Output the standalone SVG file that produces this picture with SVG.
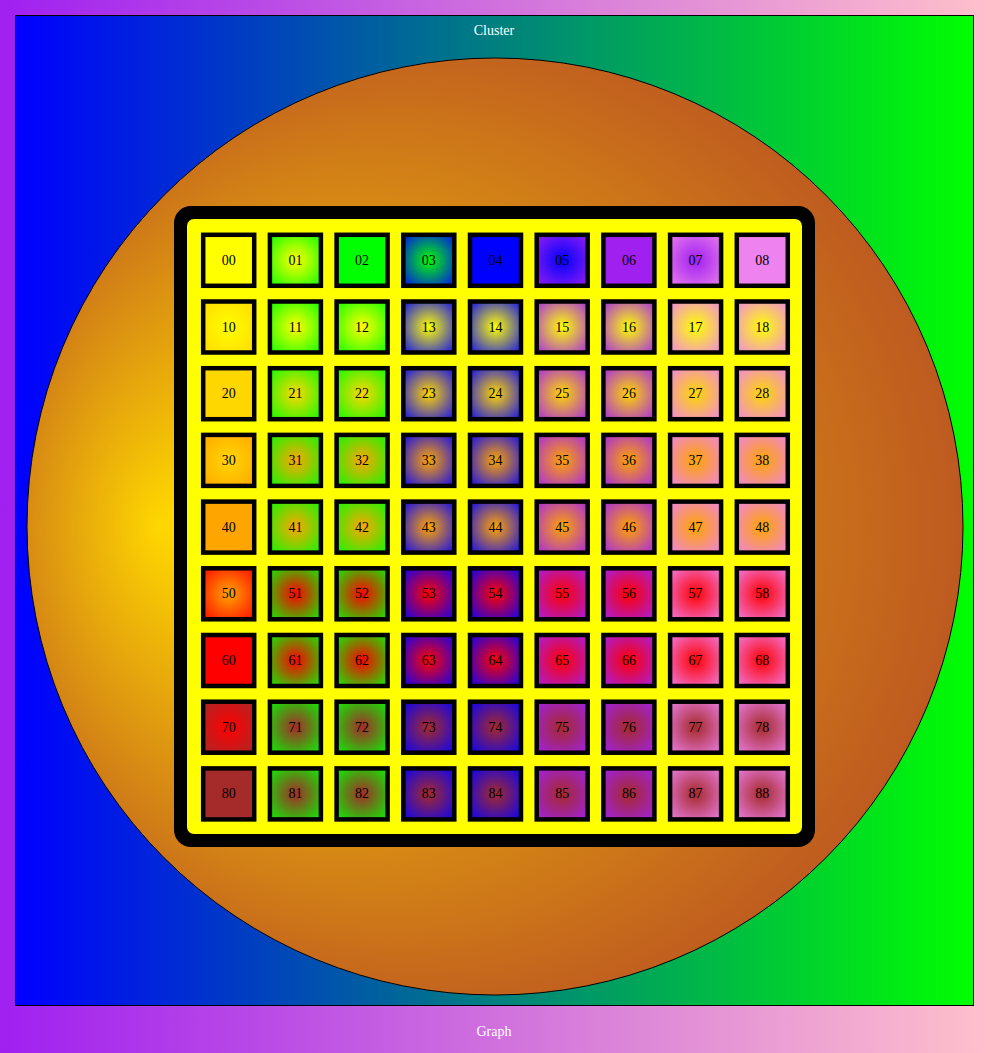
<svg xmlns="http://www.w3.org/2000/svg" width="989" height="1053" viewBox="0 0 989 1053">
<style>
text{font-family:"Liberation Serif","Times New Roman",serif;font-size:14px;text-anchor:middle;fill:#000}
.lbl{fill:#fff}
.c rect{stroke:#000;stroke-width:4.5}
</style>
<defs>
<linearGradient id="bg" x1="0" y1="0" x2="1" y2="0"><stop offset="0" stop-color="#A020F0"/><stop offset="1" stop-color="#FFC0CB"/></linearGradient>
<linearGradient id="cl" x1="0" y1="0" x2="1" y2="0"><stop offset="0" stop-color="#0000FF"/><stop offset="1" stop-color="#00FF00"/></linearGradient>
<radialGradient id="el" gradientUnits="userSpaceOnUse" cx="451" cy="526" r="511" fx="160" fy="526"><stop offset="0" stop-color="#FFD700"/><stop offset="1" stop-color="#BE5A20"/></radialGradient>
<radialGradient id="YG" r="75%"><stop offset="0" stop-color="#FFFF00"/><stop offset="1" stop-color="#00FF00"/></radialGradient>
<radialGradient id="YB" r="75%"><stop offset="0" stop-color="#FFFF00"/><stop offset="1" stop-color="#0000FF"/></radialGradient>
<radialGradient id="YP" r="75%"><stop offset="0" stop-color="#FFFF00"/><stop offset="1" stop-color="#A020F0"/></radialGradient>
<radialGradient id="YV" r="75%"><stop offset="0" stop-color="#FFFF00"/><stop offset="1" stop-color="#EE82EE"/></radialGradient>
<radialGradient id="DG" r="75%"><stop offset="0" stop-color="#FFD700"/><stop offset="1" stop-color="#00FF00"/></radialGradient>
<radialGradient id="DB" r="75%"><stop offset="0" stop-color="#FFD700"/><stop offset="1" stop-color="#0000FF"/></radialGradient>
<radialGradient id="DP" r="75%"><stop offset="0" stop-color="#FFD700"/><stop offset="1" stop-color="#A020F0"/></radialGradient>
<radialGradient id="DV" r="75%"><stop offset="0" stop-color="#FFD700"/><stop offset="1" stop-color="#EE82EE"/></radialGradient>
<radialGradient id="OG" r="75%"><stop offset="0" stop-color="#FFA500"/><stop offset="1" stop-color="#00FF00"/></radialGradient>
<radialGradient id="OB" r="75%"><stop offset="0" stop-color="#FFA500"/><stop offset="1" stop-color="#0000FF"/></radialGradient>
<radialGradient id="OP" r="75%"><stop offset="0" stop-color="#FFA500"/><stop offset="1" stop-color="#A020F0"/></radialGradient>
<radialGradient id="OV" r="75%"><stop offset="0" stop-color="#FFA500"/><stop offset="1" stop-color="#EE82EE"/></radialGradient>
<radialGradient id="RG" r="75%"><stop offset="0" stop-color="#FF0000"/><stop offset="1" stop-color="#00FF00"/></radialGradient>
<radialGradient id="RB" r="75%"><stop offset="0" stop-color="#FF0000"/><stop offset="1" stop-color="#0000FF"/></radialGradient>
<radialGradient id="RP" r="75%"><stop offset="0" stop-color="#FF0000"/><stop offset="1" stop-color="#A020F0"/></radialGradient>
<radialGradient id="RV" r="75%"><stop offset="0" stop-color="#FF0000"/><stop offset="1" stop-color="#EE82EE"/></radialGradient>
<radialGradient id="NG" r="75%"><stop offset="0" stop-color="#A52A2A"/><stop offset="1" stop-color="#00FF00"/></radialGradient>
<radialGradient id="NB" r="75%"><stop offset="0" stop-color="#A52A2A"/><stop offset="1" stop-color="#0000FF"/></radialGradient>
<radialGradient id="NP" r="75%"><stop offset="0" stop-color="#A52A2A"/><stop offset="1" stop-color="#A020F0"/></radialGradient>
<radialGradient id="NV" r="75%"><stop offset="0" stop-color="#A52A2A"/><stop offset="1" stop-color="#EE82EE"/></radialGradient>
<radialGradient id="GB" r="75%"><stop offset="0" stop-color="#00FF00"/><stop offset="1" stop-color="#0000FF"/></radialGradient>
<radialGradient id="BP" r="75%"><stop offset="0" stop-color="#0000FF"/><stop offset="1" stop-color="#A020F0"/></radialGradient>
<radialGradient id="PV" r="75%"><stop offset="0" stop-color="#A020F0"/><stop offset="1" stop-color="#EE82EE"/></radialGradient>
<radialGradient id="YD" r="75%"><stop offset="0" stop-color="#FFFF00"/><stop offset="1" stop-color="#FFD700"/></radialGradient>
<radialGradient id="DO" r="75%"><stop offset="0" stop-color="#FFD700"/><stop offset="1" stop-color="#FFA500"/></radialGradient>
<radialGradient id="OR" r="75%"><stop offset="0" stop-color="#FFA500"/><stop offset="1" stop-color="#FF0000"/></radialGradient>
<radialGradient id="RN" r="75%"><stop offset="0" stop-color="#FF0000"/><stop offset="1" stop-color="#A52A2A"/></radialGradient>
</defs>
<rect x="0" y="0" width="989" height="1053" fill="url(#bg)"/>
<g id="cluster1">
<rect x="15.5" y="15.5" width="958" height="990" fill="url(#cl)" stroke="#000"/>
<text class="lbl" x="494" y="35">Cluster</text>
</g>
<g id="node_table">
<ellipse cx="495" cy="526.5" rx="468" ry="468.5" fill="url(#el)" stroke="#000"/>
<rect x="174" y="206" width="641" height="641" rx="17" fill="#000"/>
<rect x="187" y="219" width="615" height="615" rx="7" fill="#FFFF00"/>
</g>
<g id="cells" class="c">
<g id="c00"><rect x="203.2" y="234.8" width="51" height="51" fill="#FFFF00"/><text x="228.7" y="264.8">00</text></g>
<g id="c01"><rect x="269.9" y="234.8" width="51" height="51" fill="url(#YG)"/><text x="295.4" y="264.8">01</text></g>
<g id="c02"><rect x="336.6" y="234.8" width="51" height="51" fill="#00FF00"/><text x="362.1" y="264.8">02</text></g>
<g id="c03"><rect x="403.3" y="234.8" width="51" height="51" fill="url(#GB)"/><text x="428.8" y="264.8">03</text></g>
<g id="c04"><rect x="470" y="234.8" width="51" height="51" fill="#0000FF"/><text x="495.5" y="264.8">04</text></g>
<g id="c05"><rect x="536.7" y="234.8" width="51" height="51" fill="url(#BP)"/><text x="562.2" y="264.8">05</text></g>
<g id="c06"><rect x="603.4" y="234.8" width="51" height="51" fill="#A020F0"/><text x="628.9" y="264.8">06</text></g>
<g id="c07"><rect x="670.1" y="234.8" width="51" height="51" fill="url(#PV)"/><text x="695.6" y="264.8">07</text></g>
<g id="c08"><rect x="736.8" y="234.8" width="51" height="51" fill="#EE82EE"/><text x="762.3" y="264.8">08</text></g>

<g id="c10"><rect x="203.2" y="301.5" width="51" height="51" fill="url(#YD)"/><text x="228.7" y="331.5">10</text></g>
<g id="c11"><rect x="269.9" y="301.5" width="51" height="51" fill="url(#YG)"/><text x="295.4" y="331.5">11</text></g>
<g id="c12"><rect x="336.6" y="301.5" width="51" height="51" fill="url(#YG)"/><text x="362.1" y="331.5">12</text></g>
<g id="c13"><rect x="403.3" y="301.5" width="51" height="51" fill="url(#YB)"/><text x="428.8" y="331.5">13</text></g>
<g id="c14"><rect x="470" y="301.5" width="51" height="51" fill="url(#YB)"/><text x="495.5" y="331.5">14</text></g>
<g id="c15"><rect x="536.7" y="301.5" width="51" height="51" fill="url(#YP)"/><text x="562.2" y="331.5">15</text></g>
<g id="c16"><rect x="603.4" y="301.5" width="51" height="51" fill="url(#YP)"/><text x="628.9" y="331.5">16</text></g>
<g id="c17"><rect x="670.1" y="301.5" width="51" height="51" fill="url(#YV)"/><text x="695.6" y="331.5">17</text></g>
<g id="c18"><rect x="736.8" y="301.5" width="51" height="51" fill="url(#YV)"/><text x="762.3" y="331.5">18</text></g>

<g id="c20"><rect x="203.2" y="368.2" width="51" height="51" fill="#FFD700"/><text x="228.7" y="398.2">20</text></g>
<g id="c21"><rect x="269.9" y="368.2" width="51" height="51" fill="url(#DG)"/><text x="295.4" y="398.2">21</text></g>
<g id="c22"><rect x="336.6" y="368.2" width="51" height="51" fill="url(#DG)"/><text x="362.1" y="398.2">22</text></g>
<g id="c23"><rect x="403.3" y="368.2" width="51" height="51" fill="url(#DB)"/><text x="428.8" y="398.2">23</text></g>
<g id="c24"><rect x="470" y="368.2" width="51" height="51" fill="url(#DB)"/><text x="495.5" y="398.2">24</text></g>
<g id="c25"><rect x="536.7" y="368.2" width="51" height="51" fill="url(#DP)"/><text x="562.2" y="398.2">25</text></g>
<g id="c26"><rect x="603.4" y="368.2" width="51" height="51" fill="url(#DP)"/><text x="628.9" y="398.2">26</text></g>
<g id="c27"><rect x="670.1" y="368.2" width="51" height="51" fill="url(#DV)"/><text x="695.6" y="398.2">27</text></g>
<g id="c28"><rect x="736.8" y="368.2" width="51" height="51" fill="url(#DV)"/><text x="762.3" y="398.2">28</text></g>

<g id="c30"><rect x="203.2" y="434.9" width="51" height="51" fill="url(#DO)"/><text x="228.7" y="464.9">30</text></g>
<g id="c31"><rect x="269.9" y="434.9" width="51" height="51" fill="url(#OG)"/><text x="295.4" y="464.9">31</text></g>
<g id="c32"><rect x="336.6" y="434.9" width="51" height="51" fill="url(#OG)"/><text x="362.1" y="464.9">32</text></g>
<g id="c33"><rect x="403.3" y="434.9" width="51" height="51" fill="url(#OB)"/><text x="428.8" y="464.9">33</text></g>
<g id="c34"><rect x="470" y="434.9" width="51" height="51" fill="url(#OB)"/><text x="495.5" y="464.9">34</text></g>
<g id="c35"><rect x="536.7" y="434.9" width="51" height="51" fill="url(#OP)"/><text x="562.2" y="464.9">35</text></g>
<g id="c36"><rect x="603.4" y="434.9" width="51" height="51" fill="url(#OP)"/><text x="628.9" y="464.9">36</text></g>
<g id="c37"><rect x="670.1" y="434.9" width="51" height="51" fill="url(#OV)"/><text x="695.6" y="464.9">37</text></g>
<g id="c38"><rect x="736.8" y="434.9" width="51" height="51" fill="url(#OV)"/><text x="762.3" y="464.9">38</text></g>

<g id="c40"><rect x="203.2" y="501.6" width="51" height="51" fill="#FFA500"/><text x="228.7" y="531.6">40</text></g>
<g id="c41"><rect x="269.9" y="501.6" width="51" height="51" fill="url(#OG)"/><text x="295.4" y="531.6">41</text></g>
<g id="c42"><rect x="336.6" y="501.6" width="51" height="51" fill="url(#OG)"/><text x="362.1" y="531.6">42</text></g>
<g id="c43"><rect x="403.3" y="501.6" width="51" height="51" fill="url(#OB)"/><text x="428.8" y="531.6">43</text></g>
<g id="c44"><rect x="470" y="501.6" width="51" height="51" fill="url(#OB)"/><text x="495.5" y="531.6">44</text></g>
<g id="c45"><rect x="536.7" y="501.6" width="51" height="51" fill="url(#OP)"/><text x="562.2" y="531.6">45</text></g>
<g id="c46"><rect x="603.4" y="501.6" width="51" height="51" fill="url(#OP)"/><text x="628.9" y="531.6">46</text></g>
<g id="c47"><rect x="670.1" y="501.6" width="51" height="51" fill="url(#OV)"/><text x="695.6" y="531.6">47</text></g>
<g id="c48"><rect x="736.8" y="501.6" width="51" height="51" fill="url(#OV)"/><text x="762.3" y="531.6">48</text></g>

<g id="c50"><rect x="203.2" y="568.3" width="51" height="51" fill="url(#OR)"/><text x="228.7" y="598.3">50</text></g>
<g id="c51"><rect x="269.9" y="568.3" width="51" height="51" fill="url(#RG)"/><text x="295.4" y="598.3">51</text></g>
<g id="c52"><rect x="336.6" y="568.3" width="51" height="51" fill="url(#RG)"/><text x="362.1" y="598.3">52</text></g>
<g id="c53"><rect x="403.3" y="568.3" width="51" height="51" fill="url(#RB)"/><text x="428.8" y="598.3">53</text></g>
<g id="c54"><rect x="470" y="568.3" width="51" height="51" fill="url(#RB)"/><text x="495.5" y="598.3">54</text></g>
<g id="c55"><rect x="536.7" y="568.3" width="51" height="51" fill="url(#RP)"/><text x="562.2" y="598.3">55</text></g>
<g id="c56"><rect x="603.4" y="568.3" width="51" height="51" fill="url(#RP)"/><text x="628.9" y="598.3">56</text></g>
<g id="c57"><rect x="670.1" y="568.3" width="51" height="51" fill="url(#RV)"/><text x="695.6" y="598.3">57</text></g>
<g id="c58"><rect x="736.8" y="568.3" width="51" height="51" fill="url(#RV)"/><text x="762.3" y="598.3">58</text></g>

<g id="c60"><rect x="203.2" y="635" width="51" height="51" fill="#FF0000"/><text x="228.7" y="665">60</text></g>
<g id="c61"><rect x="269.9" y="635" width="51" height="51" fill="url(#RG)"/><text x="295.4" y="665">61</text></g>
<g id="c62"><rect x="336.6" y="635" width="51" height="51" fill="url(#RG)"/><text x="362.1" y="665">62</text></g>
<g id="c63"><rect x="403.3" y="635" width="51" height="51" fill="url(#RB)"/><text x="428.8" y="665">63</text></g>
<g id="c64"><rect x="470" y="635" width="51" height="51" fill="url(#RB)"/><text x="495.5" y="665">64</text></g>
<g id="c65"><rect x="536.7" y="635" width="51" height="51" fill="url(#RP)"/><text x="562.2" y="665">65</text></g>
<g id="c66"><rect x="603.4" y="635" width="51" height="51" fill="url(#RP)"/><text x="628.9" y="665">66</text></g>
<g id="c67"><rect x="670.1" y="635" width="51" height="51" fill="url(#RV)"/><text x="695.6" y="665">67</text></g>
<g id="c68"><rect x="736.8" y="635" width="51" height="51" fill="url(#RV)"/><text x="762.3" y="665">68</text></g>

<g id="c70"><rect x="203.2" y="701.7" width="51" height="51" fill="url(#RN)"/><text x="228.7" y="731.7">70</text></g>
<g id="c71"><rect x="269.9" y="701.7" width="51" height="51" fill="url(#NG)"/><text x="295.4" y="731.7">71</text></g>
<g id="c72"><rect x="336.6" y="701.7" width="51" height="51" fill="url(#NG)"/><text x="362.1" y="731.7">72</text></g>
<g id="c73"><rect x="403.3" y="701.7" width="51" height="51" fill="url(#NB)"/><text x="428.8" y="731.7">73</text></g>
<g id="c74"><rect x="470" y="701.7" width="51" height="51" fill="url(#NB)"/><text x="495.5" y="731.7">74</text></g>
<g id="c75"><rect x="536.7" y="701.7" width="51" height="51" fill="url(#NP)"/><text x="562.2" y="731.7">75</text></g>
<g id="c76"><rect x="603.4" y="701.7" width="51" height="51" fill="url(#NP)"/><text x="628.9" y="731.7">76</text></g>
<g id="c77"><rect x="670.1" y="701.7" width="51" height="51" fill="url(#NV)"/><text x="695.6" y="731.7">77</text></g>
<g id="c78"><rect x="736.8" y="701.7" width="51" height="51" fill="url(#NV)"/><text x="762.3" y="731.7">78</text></g>

<g id="c80"><rect x="203.2" y="768.4" width="51" height="51" fill="#A52A2A"/><text x="228.7" y="798.4">80</text></g>
<g id="c81"><rect x="269.9" y="768.4" width="51" height="51" fill="url(#NG)"/><text x="295.4" y="798.4">81</text></g>
<g id="c82"><rect x="336.6" y="768.4" width="51" height="51" fill="url(#NG)"/><text x="362.1" y="798.4">82</text></g>
<g id="c83"><rect x="403.3" y="768.4" width="51" height="51" fill="url(#NB)"/><text x="428.8" y="798.4">83</text></g>
<g id="c84"><rect x="470" y="768.4" width="51" height="51" fill="url(#NB)"/><text x="495.5" y="798.4">84</text></g>
<g id="c85"><rect x="536.7" y="768.4" width="51" height="51" fill="url(#NP)"/><text x="562.2" y="798.4">85</text></g>
<g id="c86"><rect x="603.4" y="768.4" width="51" height="51" fill="url(#NP)"/><text x="628.9" y="798.4">86</text></g>
<g id="c87"><rect x="670.1" y="768.4" width="51" height="51" fill="url(#NV)"/><text x="695.6" y="798.4">87</text></g>
<g id="c88"><rect x="736.8" y="768.4" width="51" height="51" fill="url(#NV)"/><text x="762.3" y="798.4">88</text></g>
</g>
<g id="connectors"></g>
<text class="lbl" x="494" y="1036">Graph</text>
</svg>
